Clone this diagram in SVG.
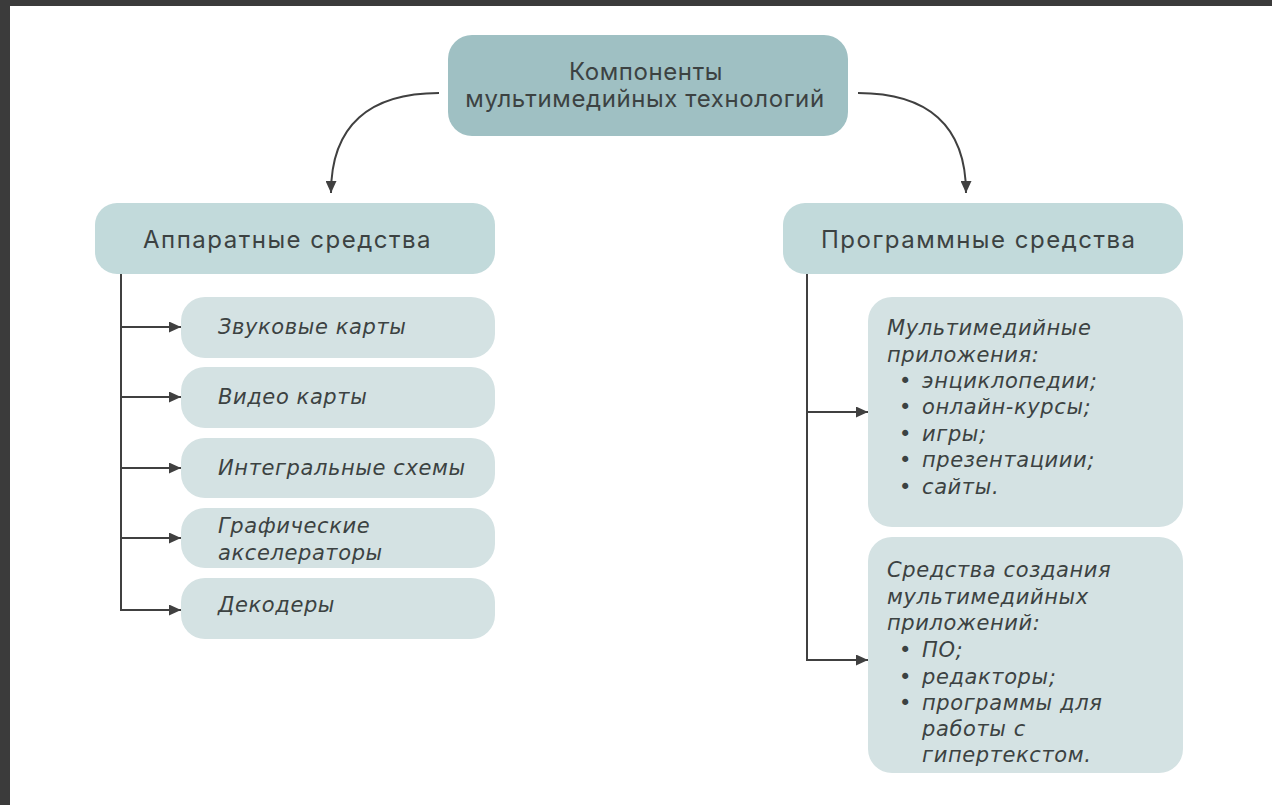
<svg xmlns="http://www.w3.org/2000/svg" width="1272" height="805" viewBox="0 0 1272 805">
  <defs>
    <marker id="arr" viewBox="0 0 12 11" refX="12" refY="5.5" markerWidth="12" markerHeight="11" markerUnits="userSpaceOnUse" orient="auto">
      <path d="M0,0 L12,5.5 L0,11 z" fill="#404040"/>
    </marker>
    <style>
      .conn { fill: none; stroke: #404040; stroke-width: 2; }
      .top { fill: #9fc0c3; }
      .lvl2 { fill: #c2dadb; }
      .item { fill: #d4e2e3; }
      .t { font-family: Inter, "Liberation Sans", sans-serif; fill: #3c4242; }
      .r { font-size: 24px; letter-spacing: 0.6px; }
      .h { font-size: 24px; letter-spacing: 1.5px; }
      .i { font-family: "DejaVu Sans", "Liberation Sans", sans-serif; font-size: 21px; font-style: italic; letter-spacing: 0.6px; }
    </style>
  </defs>
  <rect x="0" y="0" width="1272" height="805" fill="#3b3b3b"/>
  <rect x="10" y="6" width="1262" height="799" fill="#ffffff"/>

  <g id="connectors">
    <path class="conn" d="M439,93 C370,93 331,125 331,193" marker-end="url(#arr)"/>
    <path class="conn" d="M858,93 C927,93 966,125 966,193" marker-end="url(#arr)"/>
    <path class="conn" d="M121,274 L121,610"/>
    <path class="conn" d="M121,327 L181,327" marker-end="url(#arr)"/>
    <path class="conn" d="M121,397 L181,397" marker-end="url(#arr)"/>
    <path class="conn" d="M121,468 L181,468" marker-end="url(#arr)"/>
    <path class="conn" d="M121,538 L181,538" marker-end="url(#arr)"/>
    <path class="conn" d="M120,610 L181,610" marker-end="url(#arr)"/>
    <path class="conn" d="M807,274 L807,660"/>
    <path class="conn" d="M807,412 L868,412" marker-end="url(#arr)"/>
    <path class="conn" d="M806,660 L868,660" marker-end="url(#arr)"/>
  </g>

  <g id="node-root">
    <rect class="top" x="448" y="35" width="400" height="101" rx="24"/>
    <text class="t r" text-anchor="middle" x="646" y="80">Компоненты</text>
    <text class="t r" text-anchor="middle" x="645" y="107">мультимедийных технологий</text>
  </g>

  <g id="node-hw">
    <rect class="lvl2" x="95" y="203" width="400" height="71" rx="22"/>
    <text class="t h" x="143" y="248">Аппаратные средства</text>
  </g>

  <g id="node-sw">
    <rect class="lvl2" x="783" y="203" width="400" height="71" rx="22"/>
    <text class="t h" x="821" y="248">Программные средства</text>
  </g>

  <g id="node-sound">
    <rect class="item" x="181" y="297" width="314" height="61" rx="24"/>
    <text class="t i" x="218" y="334">Звуковые карты</text>
  </g>
  <g id="node-video">
    <rect class="item" x="181" y="367" width="314" height="61" rx="24"/>
    <text class="t i" x="218" y="404">Видео карты</text>
  </g>
  <g id="node-ic">
    <rect class="item" x="181" y="438" width="314" height="60" rx="24"/>
    <text class="t i" x="218" y="475">Интегральные схемы</text>
  </g>
  <g id="node-gpu">
    <rect class="item" x="181" y="508" width="314" height="60" rx="24"/>
    <text class="t i" x="218" y="533">Графические</text>
    <text class="t i" x="218" y="560">акселераторы</text>
  </g>
  <g id="node-dec">
    <rect class="item" x="181" y="578" width="314" height="61" rx="24"/>
    <text class="t i" x="218" y="612">Декодеры</text>
  </g>

  <g id="node-apps">
    <rect class="item" x="868" y="297" width="315" height="230" rx="24"/>
    <text class="t i" x="887" y="335">Мультимедийные</text>
    <text class="t i" x="887" y="362">приложения:</text>
    <text class="t i" x="899" y="388">•</text><text class="t i" x="922" y="388">энциклопедии;</text>
    <text class="t i" x="899" y="414">•</text><text class="t i" x="922" y="414">онлайн-курсы;</text>
    <text class="t i" x="899" y="441">•</text><text class="t i" x="922" y="441">игры;</text>
    <text class="t i" x="899" y="467">•</text><text class="t i" x="922" y="467">презентациии;</text>
    <text class="t i" x="899" y="494">•</text><text class="t i" x="922" y="494">сайты.</text>
  </g>

  <g id="node-tools">
    <rect class="item" x="868" y="537" width="315" height="236" rx="24"/>
    <text class="t i" x="887" y="577">Средства создания</text>
    <text class="t i" x="887" y="604">мультимедийных</text>
    <text class="t i" x="887" y="630">приложений:</text>
    <text class="t i" x="899" y="657">•</text><text class="t i" x="922" y="657">ПО;</text>
    <text class="t i" x="899" y="684">•</text><text class="t i" x="922" y="684">редакторы;</text>
    <text class="t i" x="899" y="710">•</text><text class="t i" x="922" y="710">программы для</text>
    <text class="t i" x="922" y="736">работы с</text>
    <text class="t i" x="922" y="762">гипертекстом.</text>
  </g>
</svg>
